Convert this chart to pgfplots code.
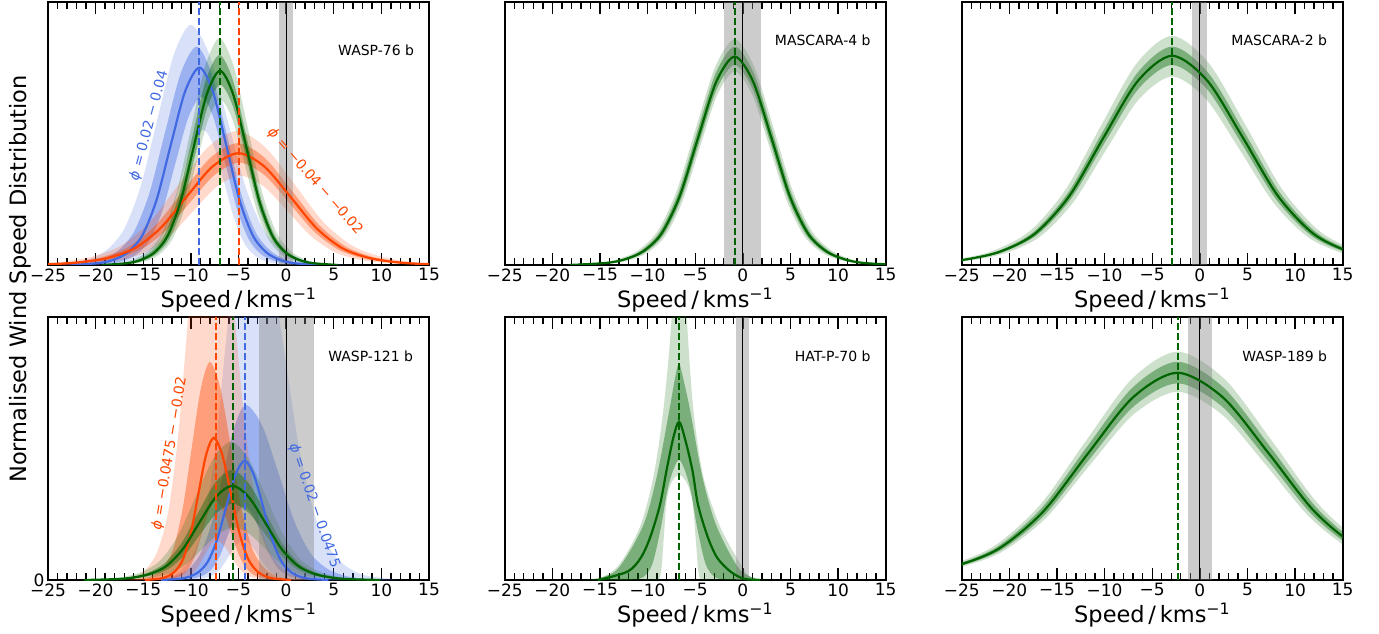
\documentclass[border=0pt]{standalone}
\usepackage{fontspec}
\setmainfont{DejaVu Sans}
\usepackage{pgfplots}
\pgfplotsset{compat=1.18}
\usepgfplotslibrary{fillbetween}

\definecolor{rblue}{RGB}{65,105,225}
\definecolor{ored}{RGB}{255,69,0}
\definecolor{dgreen}{RGB}{0,100,0}

\pgfplotsset{
  panel/.style={
    scale only axis, width=381pt, anchor=south west,
    xmin=-25, xmax=15, ymin=0, ymax=1,
    xtick={-25,-20,...,15},
    xticklabels={−25,−20,−15,−10,−5,0,5,10,15},
    minor x tick num=4,
    ytick=\empty,
    tick align=inside,
    major tick length=12pt, minor tick length=7pt,
    tick style={black, line width=1.4pt},
    axis line style={line width=2pt},
    ticklabel style={font=\fontsize{17}{17}\selectfont},
    xlabel={Speed\,/\,kms\textsuperscript{−1}},
    xlabel style={font=\fontsize{22.5}{25}\selectfont, at={(axis description cs:0.5,0)}, anchor=base, yshift=-42pt},
  },
  crv/.style={draw=none, smooth, forget plot},
  med/.style={smooth, line width=2.2pt, forget plot},
  vmark/.style={line width=2pt, dash pattern=on 7pt off 3pt, forget plot},
  zero/.style={black, line width=1.2pt, forget plot},
  greyband/.style={draw=none, fill=black!50, fill opacity=0.4, forget plot},
}
\tikzset{lab/.style={font=\fontsize{14}{16}\selectfont, inner sep=0pt}}

\begin{document}
\begin{tikzpicture}

% ---------------- WASP-76 b ----------------
\begin{axis}[panel, at={(48pt,368pt)}, height=262.5pt]
\addplot[greyband] coordinates {(-0.8,1) (0.75,1)} \closedcycle;
% blue phase
\addplot[crv, name path=Abu2] coordinates {(-25.75,0) (-22.25,.0092) (-20.5,.0247) (-18.75,.0595) (-17.0,.1373) (-15.25,.3020) (-13.5,.5582) (-11.75,.8052) (-10.0,.915) (-8.1,.8052) (-6.2,.5582) (-4.3,.3020) (-2.4,.1373) (-0.5,.0595) (1.4,.0247) (3.3,.0092) (7.1,0)};
\addplot[crv, name path=Abl2] coordinates {(-19.5,0) (-17.1,.0052) (-15.9,.0139) (-14.7,.0335) (-13.5,.0773) (-12.3,.17) (-11.1,.3142) (-9.9,.4532) (-8.7,.515) (-7.6,.4532) (-6.5,.3142) (-5.4,.17) (-4.3,.0773) (-3.2,.0335) (-2.1,.0139) (-1.0,.0052) (1.2,0)};
\addplot[crv, name path=Abu1] coordinates {(-24.25,0) (-20.95,.0083) (-19.3,.0225) (-17.65,.0541) (-16.0,.1248) (-14.35,.2746) (-12.7,.5075) (-11.05,.7322) (-9.4,.832) (-7.85,.7322) (-6.3,.5075) (-4.75,.2746) (-3.2,.1248) (-1.65,.0541) (-0.1,.0225) (1.45,.0083) (4.55,0)};
\addplot[crv, name path=Abl1] coordinates {(-21.05,0) (-18.35,.0064) (-17.0,.0173) (-15.65,.0416) (-14.3,.096) (-12.95,.2112) (-11.6,.3904) (-10.25,.5632) (-8.9,.64) (-7.65,.5632) (-6.4,.3904) (-5.15,.2112) (-3.9,.096) (-2.65,.0416) (-1.4,.0173) (-0.15,.0064) (2.35,0)};
\addplot[fill=rblue, fill opacity=0.2, draw=none, forget plot] fill between[of=Abu2 and Abl2];
\addplot[fill=rblue, fill opacity=0.4, draw=none, forget plot] fill between[of=Abu1 and Abl1];
% orange phase
\addplot[crv, name path=Aou2] coordinates {(-32.2,0) (-26.2,.0051) (-23.2,.0138) (-20.2,.0332) (-17.2,.0765) (-14.2,.1683) (-11.2,.3111) (-8.2,.4488) (-5.2,.51) (-2.2,.4488) (0.8,.3111) (3.8,.1683) (6.8,.0765) (9.8,.0332) (12.8,.0138) (15.8,.0051) (21.8,0)};
\addplot[crv, name path=Aol2] coordinates {(-26.85,0) (-21.95,.0034) (-19.5,.0092) (-17.05,.0221) (-14.6,.051) (-12.15,.1122) (-9.7,.2074) (-7.25,.2992) (-4.8,.34) (-2.35,.2992) (0.1,.2074) (2.55,.1122) (5.0,.051) (7.45,.0221) (9.9,.0092) (12.35,.0034) (17.25,0)};
\addplot[crv, name path=Aou1] coordinates {(-30.75,0) (-25.05,.0046) (-22.2,.0125) (-19.35,.0302) (-16.5,.0696) (-13.65,.1531) (-10.8,.283) (-7.95,.4083) (-5.1,.464) (-2.25,.4083) (0.6,.283) (3.45,.1531) (6.3,.0696) (9.15,.0302) (12.0,.0125) (14.85,.0046) (20.55,0)};
\addplot[crv, name path=Aol1] coordinates {(-28.3,0) (-23.1,.0039) (-20.5,.0105) (-17.9,.0254) (-15.3,.0585) (-12.7,.1287) (-10.1,.2379) (-7.5,.3432) (-4.9,.39) (-2.3,.3432) (0.3,.2379) (2.9,.1287) (5.5,.0585) (8.1,.0254) (10.7,.0105) (13.3,.0039) (18.5,0)};
\addplot[fill=ored, fill opacity=0.2, draw=none, forget plot] fill between[of=Aou2 and Aol2];
\addplot[fill=ored, fill opacity=0.4, draw=none, forget plot] fill between[of=Aou1 and Aol1];
% combined
\addplot[crv, name path=Agu2] coordinates {(-20.28,0) (-17.33,.0086) (-15.85,.0233) (-14.38,.0562) (-12.9,.1296) (-11.43,.2851) (-9.95,.527) (-8.48,.7603) (-7.0,.864) (-5.53,.7603) (-4.05,.527) (-2.58,.2851) (-1.1,.1296) (0.38,.0562) (1.85,.0233) (3.33,.0086) (6.28,0)};
\addplot[crv, name path=Agl2] coordinates {(-18.38,0) (-15.83,.0063) (-14.55,.017) (-13.28,.041) (-12.0,.0945) (-10.73,.2079) (-9.45,.3843) (-8.18,.5544) (-6.9,.63) (-5.63,.5544) (-4.35,.3843) (-3.08,.2079) (-1.8,.0945) (-0.53,.041) (0.75,.017) (2.03,.0063) (4.58,0)};
\addplot[crv, name path=Agu1] coordinates {(-19.83,0) (-16.98,.008) (-15.55,.0216) (-14.13,.052) (-12.7,.12) (-11.28,.264) (-9.85,.488) (-8.43,.704) (-7.0,.80) (-5.58,.704) (-4.15,.488) (-2.73,.264) (-1.3,.12) (0.13,.052) (1.55,.0216) (2.98,.008) (5.83,0)};
\addplot[crv, name path=Agl1] coordinates {(-18.83,0) (-16.18,.0069) (-14.85,.0185) (-13.53,.0446) (-12.2,.1029) (-10.88,.2264) (-9.55,.4185) (-8.23,.6037) (-6.9,.686) (-5.58,.6037) (-4.25,.4185) (-2.93,.2264) (-1.6,.1029) (-0.28,.0446) (1.05,.0185) (2.38,.0069) (5.03,0)};
\addplot[fill=dgreen, fill opacity=0.2, draw=none, forget plot] fill between[of=Agu2 and Agl2];
\addplot[fill=dgreen, fill opacity=0.4, draw=none, forget plot] fill between[of=Agu1 and Agl1];
\addplot[zero] coordinates {(0,0) (0,1)};
\addplot[med, rblue] coordinates {(-22.6,0) (-19.6,.0075) (-18.1,.0203) (-16.6,.0489) (-15.1,.1128) (-13.6,.2482) (-12.1,.4587) (-10.6,.6618) (-9.1,.752) (-7.7,.6618) (-6.3,.4587) (-4.9,.2482) (-3.5,.1128) (-2.1,.0489) (-0.7,.0203) (0.7,.0075) (3.5,0)};
\addplot[med, ored] coordinates {(-29.53,0) (-24.08,.0043) (-21.35,.0115) (-18.63,.0277) (-15.9,.0639) (-13.18,.1406) (-10.45,.2599) (-7.73,.3749) (-5.0,.426) (-2.28,.3749) (0.45,.2599) (3.18,.1406) (5.9,.0639) (8.63,.0277) (11.35,.0115) (14.08,.0043) (19.53,0)};
\addplot[med, dgreen] coordinates {(-19.32,0) (-16.57,.0074) (-15.19,.02) (-13.82,.0481) (-12.44,.111) (-11.07,.2442) (-9.69,.4514) (-8.32,.6512) (-6.94,.74) (-5.57,.6512) (-4.19,.4514) (-2.82,.2442) (-1.44,.111) (-0.07,.0481) (1.31,.02) (2.69,.0074) (5.44,0)};
\addplot[vmark, rblue] coordinates {(-9.1,0) (-9.1,1)};
\addplot[vmark, dgreen] coordinates {(-6.94,0) (-6.94,1)};
\addplot[vmark, ored] coordinates {(-4.98,0) (-4.98,1)};
\node[lab, anchor=east] at (axis cs:13.45,0.819) {WASP-76 b};
\node[lab, rotate=74.9, text=rblue] at (axis cs:-14.38,0.531) {{\itshape ϕ} = 0.02 − 0.04};
\node[lab, rotate=-48.8, text=ored] at (axis cs:3.03,0.318) {{\itshape ϕ} = −0.04 − −0.02};
\end{axis}

% ---------------- MASCARA-4 b ----------------
\begin{axis}[panel, at={(504.7pt,368pt)}, height=262.5pt]
\addplot[greyband] coordinates {(-1.95,1) (1.95,1)} \closedcycle;
\addplot[crv, name path=Bu2] coordinates {(-19.08,0) (-15.03,.0086) (-13.0,.0232) (-10.98,.0559) (-8.95,.129) (-6.93,.2838) (-4.9,.5246) (-2.88,.7568) (-0.85,.86) (1.18,.7568) (3.2,.5246) (5.23,.2838) (7.25,.129) (9.28,.0559) (11.3,.0232) (13.33,.0086) (17.38,0)};
\addplot[crv, name path=Bl2] coordinates {(-17.28,0) (-13.63,.0074) (-11.8,.0199) (-9.98,.0479) (-8.15,.1106) (-6.33,.2432) (-4.5,.4496) (-2.68,.6486) (-0.85,.737) (0.98,.6486) (2.8,.4496) (4.63,.2432) (6.45,.1106) (8.28,.0479) (10.1,.0199) (11.93,.0074) (15.58,0)};
\addplot[crv, name path=Bu1] coordinates {(-18.63,0) (-14.68,.0083) (-12.7,.0225) (-10.73,.0541) (-8.75,.1248) (-6.78,.2746) (-4.8,.5075) (-2.83,.7322) (-0.85,.832) (1.13,.7322) (3.1,.5075) (5.08,.2746) (7.05,.1248) (9.03,.0541) (11.0,.0225) (12.98,.0083) (16.93,0)};
\addplot[crv, name path=Bl1] coordinates {(-17.73,0) (-13.98,.0076) (-12.1,.0206) (-10.23,.0495) (-8.35,.1143) (-6.48,.2515) (-4.6,.4648) (-2.73,.6706) (-0.85,.762) (1.03,.6706) (2.9,.4648) (4.78,.2515) (6.65,.1143) (8.53,.0495) (10.4,.0206) (12.28,.0076) (16.03,0)};
\addplot[fill=dgreen, fill opacity=0.2, draw=none, forget plot] fill between[of=Bu2 and Bl2];
\addplot[fill=dgreen, fill opacity=0.4, draw=none, forget plot] fill between[of=Bu1 and Bl1];
\addplot[zero] coordinates {(0,0) (0,1)};
\addplot[med, dgreen] coordinates {(-18.18,0) (-14.33,.0079) (-12.4,.0214) (-10.48,.0516) (-8.55,.1191) (-6.63,.262) (-4.7,.4843) (-2.78,.6987) (-0.85,.794) (1.08,.6987) (3.0,.4843) (4.93,.262) (6.85,.1191) (8.78,.0516) (10.7,.0214) (12.63,.0079) (16.48,0)};
\addplot[vmark, dgreen] coordinates {(-0.82,0) (-0.82,1)};
\node[lab, anchor=east] at (axis cs:13.43,0.856) {MASCARA-4 b};
\end{axis}

% ---------------- MASCARA-2 b ----------------
\begin{axis}[panel, at={(961.7pt,368pt)}, height=262.5pt]
\addplot[greyband] coordinates {(-0.8,1) (0.8,1)} \closedcycle;
\addplot[crv, name path=Cu2] coordinates {(-36.43,0) (-28.98,.0087) (-25.25,.0236) (-21.53,.0567) (-17.8,.131) (-14.08,.2881) (-10.35,.5325) (-6.63,.7682) (-2.9,.873) (0.95,.7682) (4.8,.5325) (8.65,.2881) (12.5,.131) (16.35,.0567) (20.2,.0236) (24.05,.0087) (31.75,0)};
\addplot[crv, name path=Cl2] coordinates {(-34.18,0) (-27.23,.0072) (-23.75,.0194) (-20.28,.0467) (-16.8,.1077) (-13.33,.2369) (-9.85,.438) (-6.38,.6318) (-2.9,.718) (0.65,.6318) (4.2,.438) (7.75,.2369) (11.3,.1077) (14.85,.0467) (18.4,.0194) (21.95,.0072) (29.05,0)};
\addplot[crv, name path=Cu1] coordinates {(-35.75,0) (-28.45,.0083) (-24.8,.0225) (-21.15,.0541) (-17.5,.1248) (-13.85,.2746) (-10.2,.5075) (-6.55,.7322) (-2.9,.832) (0.88,.7322) (4.65,.5075) (8.43,.2746) (12.2,.1248) (15.98,.0541) (19.75,.0225) (23.53,.0083) (31.08,0)};
\addplot[crv, name path=Cl1] coordinates {(-34.85,0) (-27.75,.0076) (-24.2,.0206) (-20.65,.0495) (-17.1,.1143) (-13.55,.2515) (-10.0,.4648) (-6.45,.6706) (-2.9,.762) (0.73,.6706) (4.35,.4648) (7.98,.2515) (11.6,.1143) (15.23,.0495) (18.85,.0206) (22.48,.0076) (29.73,0)};
\addplot[fill=dgreen, fill opacity=0.2, draw=none, forget plot] fill between[of=Cu2 and Cl2];
\addplot[fill=dgreen, fill opacity=0.4, draw=none, forget plot] fill between[of=Cu1 and Cl1];
\addplot[zero] coordinates {(0,0) (0,1)};
\addplot[med, dgreen] coordinates {(-35.3,0) (-28.1,.008) (-24.5,.0215) (-20.9,.0518) (-17.3,.1196) (-13.7,.263) (-10.1,.4862) (-6.5,.7014) (-2.9,.797) (0.8,.7014) (4.5,.4862) (8.2,.263) (11.9,.1196) (15.6,.0518) (19.3,.0215) (23.0,.008) (30.4,0)};
\addplot[vmark, dgreen] coordinates {(-2.95,0) (-2.95,1)};
\node[lab, anchor=east] at (axis cs:13.38,0.856) {MASCARA-2 b};
\end{axis}

% ---------------- WASP-121 b ----------------
\begin{axis}[panel, at={(48pt,53pt)}, height=263.3pt, ytick={0}, yticklabels={0}]
\addplot[greyband] coordinates {(-2.9,1) (2.9,1)} \closedcycle;
% blue phase
\addplot[crv, name path=Dbu2] coordinates {(-14.35,0) (-12.05,.015) (-10.9,.0405) (-9.75,.0975) (-8.6,.225) (-7.45,.495) (-6.3,.915) (-5.15,1.32) (-4.0,1.5) (-2.2,1.32) (-0.4,.915) (1.4,.495) (3.2,.225) (5.0,.0975) (6.8,.0405) (8.6,.015) (12.2,0)};
\addplot[crv, name path=Dbl2] coordinates {(-11.25,0) (-9.75,.0015) (-9.0,.0041) (-8.25,.0098) (-7.5,.0225) (-6.75,.0495) (-6.0,.0915) (-5.25,.132) (-4.5,.15) (-3.7,.132) (-2.9,.0915) (-2.1,.0495) (-1.3,.0225) (-0.5,.0098) (0.3,.0041) (1.1,.0015) (2.7,0)};
\addplot[crv, name path=Dbu1] coordinates {(-15.0,0) (-12.6,.0067) (-11.4,.018) (-10.2,.0432) (-9.0,.0998) (-7.8,.2195) (-6.6,.4057) (-5.4,.5852) (-4.2,.665) (-2.5,.5852) (-0.8,.4057) (0.9,.2195) (2.6,.0998) (4.3,.0432) (6.0,.018) (7.7,.0067) (11.1,0)};
\addplot[crv, name path=Dbl1] coordinates {(-12.05,0) (-10.35,.0028) (-9.5,.0076) (-8.65,.0182) (-7.8,.042) (-6.95,.0924) (-6.1,.1708) (-5.25,.2464) (-4.4,.28) (-3.5,.2464) (-2.6,.1708) (-1.7,.0924) (-0.8,.042) (0.1,.0182) (1.0,.0076) (1.9,.0028) (3.7,0)};
\addplot[fill=rblue, fill opacity=0.2, draw=none, forget plot] fill between[of=Dbu2 and Dbl2];
\addplot[fill=rblue, fill opacity=0.4, draw=none, forget plot] fill between[of=Dbu1 and Dbl1];
\addplot[med, rblue] coordinates {(-13.13,0) (-11.18,.0045) (-10.2,.0122) (-9.23,.0294) (-8.25,.068) (-7.28,.1495) (-6.3,.2763) (-5.33,.3986) (-4.35,.453) (-3.38,.3986) (-2.4,.2763) (-1.43,.1495) (-0.45,.068) (0.53,.0294) (1.5,.0122) (2.48,.0045) (4.43,0)};
% orange phase
\addplot[crv, name path=Dou2] coordinates {(-17.9,0) (-15.7,.017) (-14.6,.0459) (-13.5,.1105) (-12.4,.255) (-11.3,.561) (-10.2,1.037) (-9.1,1.496) (-8.0,1.7) (-6.75,1.496) (-5.5,1.037) (-4.25,.561) (-3.0,.255) (-1.75,.1105) (-0.5,.0459) (0.75,.017) (3.25,0)};
\addplot[crv, name path=Dol2] coordinates {(-13.15,0) (-11.85,.0015) (-11.2,.0041) (-10.55,.0098) (-9.9,.0225) (-9.25,.0495) (-8.6,.0915) (-7.95,.132) (-7.3,.15) (-6.55,.132) (-5.8,.0915) (-5.05,.0495) (-4.3,.0225) (-3.55,.0098) (-2.8,.0041) (-2.05,.0015) (-0.55,0)};
\addplot[crv, name path=Dou1] coordinates {(-16.55,0) (-14.65,.0083) (-13.7,.0224) (-12.75,.0538) (-11.8,.1242) (-10.85,.2732) (-9.9,.5051) (-8.95,.7286) (-8.0,.828) (-6.9,.7286) (-5.8,.5051) (-4.7,.2732) (-3.6,.1242) (-2.5,.0538) (-1.4,.0224) (-0.3,.0083) (1.9,0)};
\addplot[crv, name path=Dol1] coordinates {(-13.7,0) (-12.3,.003) (-11.6,.0081) (-10.9,.0195) (-10.2,.045) (-9.5,.099) (-8.8,.183) (-8.1,.264) (-7.4,.3) (-6.6,.264) (-5.8,.183) (-5.0,.099) (-4.2,.045) (-3.4,.0195) (-2.6,.0081) (-1.8,.003) (-0.2,0)};
\addplot[fill=ored, fill opacity=0.2, draw=none, forget plot] fill between[of=Dou2 and Dol2];
\addplot[fill=ored, fill opacity=0.4, draw=none, forget plot] fill between[of=Dou1 and Dol1];
% combined
\addplot[crv, name path=Dgu2] coordinates {(-22.23,0) (-18.58,.0053) (-16.75,.0142) (-14.93,.0341) (-13.1,.0788) (-11.28,.1733) (-9.45,.3203) (-7.63,.462) (-5.8,.525) (-3.98,.462) (-2.15,.3203) (-0.33,.1733) (1.5,.0788) (3.33,.0341) (5.15,.0142) (6.98,.0053) (10.63,0)};
\addplot[crv, name path=Dgl2] coordinates {(-19.9,0) (-16.7,.002) (-15.1,.0054) (-13.5,.013) (-11.9,.03) (-10.3,.066) (-8.7,.122) (-7.1,.176) (-5.5,.2) (-3.9,.176) (-2.3,.122) (-0.7,.066) (0.9,.03) (2.5,.013) (4.1,.0054) (5.7,.002) (8.9,0)};
\addplot[crv, name path=Dgu1] coordinates {(-21.68,0) (-18.13,.0042) (-16.35,.0113) (-14.58,.0272) (-12.8,.0627) (-11.03,.1379) (-9.25,.255) (-7.48,.3678) (-5.7,.418) (-3.93,.3678) (-2.15,.255) (-0.38,.1379) (1.4,.0627) (3.18,.0272) (4.95,.0113) (6.73,.0042) (10.28,0)};
\addplot[crv, name path=Dgl1] coordinates {(-20.68,0) (-17.33,.0029) (-15.65,.0078) (-13.98,.0189) (-12.3,.0435) (-10.63,.0957) (-8.95,.1769) (-7.28,.2552) (-5.6,.29) (-3.93,.2552) (-2.25,.1769) (-0.58,.0957) (1.1,.0435) (2.78,.0189) (4.45,.0078) (6.13,.0029) (9.48,0)};
\addplot[fill=dgreen, fill opacity=0.2, draw=none, forget plot] fill between[of=Dgu2 and Dgl2];
\addplot[fill=dgreen, fill opacity=0.4, draw=none, forget plot] fill between[of=Dgu1 and Dgl1];
\addplot[zero] coordinates {(0,0) (0,1)};
\addplot[med, ored] coordinates {(-14.8,0) (-13.2,.0054) (-12.4,.0146) (-11.6,.0351) (-10.8,.081) (-10.0,.1782) (-9.2,.3294) (-8.4,.4752) (-7.6,.54) (-6.7,.4752) (-5.8,.3294) (-4.9,.1782) (-4.0,.081) (-3.1,.0351) (-2.2,.0146) (-1.3,.0054) (0.5,0)};
\addplot[med, dgreen] coordinates {(-21.18,0) (-17.73,.0036) (-16.0,.0097) (-14.28,.0233) (-12.55,.0537) (-10.83,.1181) (-9.1,.2184) (-7.38,.315) (-5.65,.358) (-3.93,.315) (-2.2,.2184) (-0.48,.1181) (1.25,.0537) (2.98,.0233) (4.7,.0097) (6.43,.0036) (9.88,0)};
\addplot[vmark, ored] coordinates {(-7.38,0) (-7.38,1)};
\addplot[vmark, dgreen] coordinates {(-5.62,0) (-5.62,1)};
\addplot[vmark, rblue] coordinates {(-4.37,0) (-4.37,1)};
\node[lab, anchor=east] at (axis cs:13.35,0.85) {WASP-121 b};
\node[lab, rotate=80.6, text=ored] at (axis cs:-12.22,0.481) {{\itshape ϕ} = −0.0475 − −0.02};
\node[lab, rotate=-71.1, text=rblue] at (axis cs:2.95,0.282) {{\itshape ϕ} = 0.02 − 0.0475};
\end{axis}

% ---------------- HAT-P-70 b ----------------
\begin{axis}[panel, at={(504.7pt,53pt)}, height=263.3pt]
\addplot[greyband] coordinates {(-0.67,1) (0.67,1)} \closedcycle;
\addplot[crv, name path=Eu2] coordinates {(-17,0) (-14.64,0.013) (-12.89,0.063) (-10.79,0.203) (-9.39,0.392) (-8.34,0.646) (-7.47,1.0) (-6.7,1.6) (-5.89,1.0) (-5.19,0.646) (-4.14,0.392) (-2.39,0.203) (-0.29,0.063) (0.76,0.013) (3,0)};
\addplot[crv, name path=El2] coordinates {(-8.8,0) (-8.55,0.04) (-8.3,0.16) (-8.0,0.30) (-7.5,0.37) (-6.7,0.40) (-5.9,0.37) (-5.3,0.30) (-4.95,0.16) (-4.7,0.04) (-4.45,0)};
\addplot[crv, name path=Eu1] coordinates {(-16,0) (-13.24,0.038) (-10.51,0.203) (-9.04,0.392) (-7.71,0.646) (-7.05,0.78) (-6.7,0.823) (-6.35,0.78) (-5.54,0.646) (-4.25,0.392) (-2.74,0.203) (-0.29,0.038) (2,0)};
\addplot[crv, name path=El1] coordinates {(-12,0) (-10.5,0.01) (-9.5,0.06) (-8.6,0.2) (-7.8,0.36) (-6.7,0.456) (-5.6,0.36) (-4.8,0.2) (-3.9,0.06) (-2.9,0.01) (-1.5,0)};
\addplot[fill=dgreen, fill opacity=0.2, draw=none, forget plot] fill between[of=Eu2 and El2];
\addplot[fill=dgreen, fill opacity=0.4, draw=none, forget plot] fill between[of=Eu1 and El1];
\addplot[zero] coordinates {(0,0) (0,1)};
\addplot[med, dgreen] coordinates {(-15.2,0) (-12.1,0.032) (-10.7,0.085) (-9.7,0.165) (-8.7,0.285) (-8.0,0.418) (-7.3,0.54) (-6.7,0.601) (-6.1,0.54) (-5.3,0.418) (-4.7,0.285) (-3.7,0.165) (-2.7,0.085) (-1.3,0.032) (0.1,0.005) (1.8,0)};
\addplot[vmark, dgreen] coordinates {(-6.7,0) (-6.7,1)};
\node[lab, anchor=east] at (axis cs:13.43,0.85) {HAT-P-70 b};
\end{axis}

% ---------------- WASP-189 b ----------------
\begin{axis}[panel, at={(961.7pt,53pt)}, height=263.3pt]
\addplot[greyband] coordinates {(-1.25,1) (1.25,1)} \closedcycle;
\addplot[crv, name path=Fu2] coordinates {(-45.55,0) (-35.95,.0087) (-31.15,.0234) (-26.35,.0564) (-21.55,.1301) (-16.75,.2861) (-11.95,.5289) (-7.15,.763) (-2.35,.867) (2.6,.763) (7.55,.5289) (12.5,.2861) (17.45,.1301) (22.4,.0564) (27.35,.0234) (32.3,.0087) (42.2,0)};
\addplot[crv, name path=Fl2] coordinates {(-43.75,0) (-34.55,.0072) (-29.95,.0193) (-25.35,.0465) (-20.75,.1073) (-16.15,.236) (-11.55,.4362) (-6.95,.6292) (-2.35,.715) (2.3,.6292) (6.95,.4362) (11.6,.236) (16.25,.1073) (20.9,.0465) (25.55,.0193) (30.2,.0072) (39.5,0)};
\addplot[crv, name path=Fu1] coordinates {(-45.1,0) (-35.6,.0083) (-30.85,.0224) (-26.1,.0539) (-21.35,.1244) (-16.6,.2736) (-11.85,.5057) (-7.1,.7295) (-2.35,.829) (2.53,.7295) (7.4,.5057) (12.28,.2736) (17.15,.1244) (22.03,.0539) (26.9,.0224) (31.78,.0083) (41.53,0)};
\addplot[crv, name path=Fl1] coordinates {(-44.2,0) (-34.9,.0075) (-30.25,.0202) (-25.6,.0486) (-20.95,.1121) (-16.3,.2465) (-11.65,.4557) (-7.0,.6574) (-2.35,.747) (2.38,.6574) (7.1,.4557) (11.83,.2465) (16.55,.1121) (21.28,.0486) (26.0,.0202) (30.73,.0075) (40.18,0)};
\addplot[fill=dgreen, fill opacity=0.2, draw=none, forget plot] fill between[of=Fu2 and Fl2];
\addplot[fill=dgreen, fill opacity=0.4, draw=none, forget plot] fill between[of=Fu1 and Fl1];
\addplot[zero] coordinates {(0,0) (0,1)};
\addplot[med, dgreen] coordinates {(-44.65,0) (-35.25,.0079) (-30.55,.0212) (-25.85,.0512) (-21.15,.1181) (-16.45,.2597) (-11.75,.4801) (-7.05,.6926) (-2.35,.787) (2.45,.6926) (7.25,.4801) (12.05,.2597) (16.85,.1181) (21.65,.0512) (26.45,.0212) (31.25,.0079) (40.85,0)};
\addplot[vmark, dgreen] coordinates {(-2.32,0) (-2.32,1)};
\node[lab, anchor=east] at (axis cs:13.38,0.85) {WASP-189 b};
\end{axis}

\node[rotate=90, anchor=base, font=\fontsize{22.5}{25}\selectfont] at (26.5pt,354pt) {Normalised Wind Speed Distribution};

\pgfresetboundingbox
\path[use as bounding box] (0,0) rectangle (1379pt,633pt);
\end{tikzpicture}
\end{document}
